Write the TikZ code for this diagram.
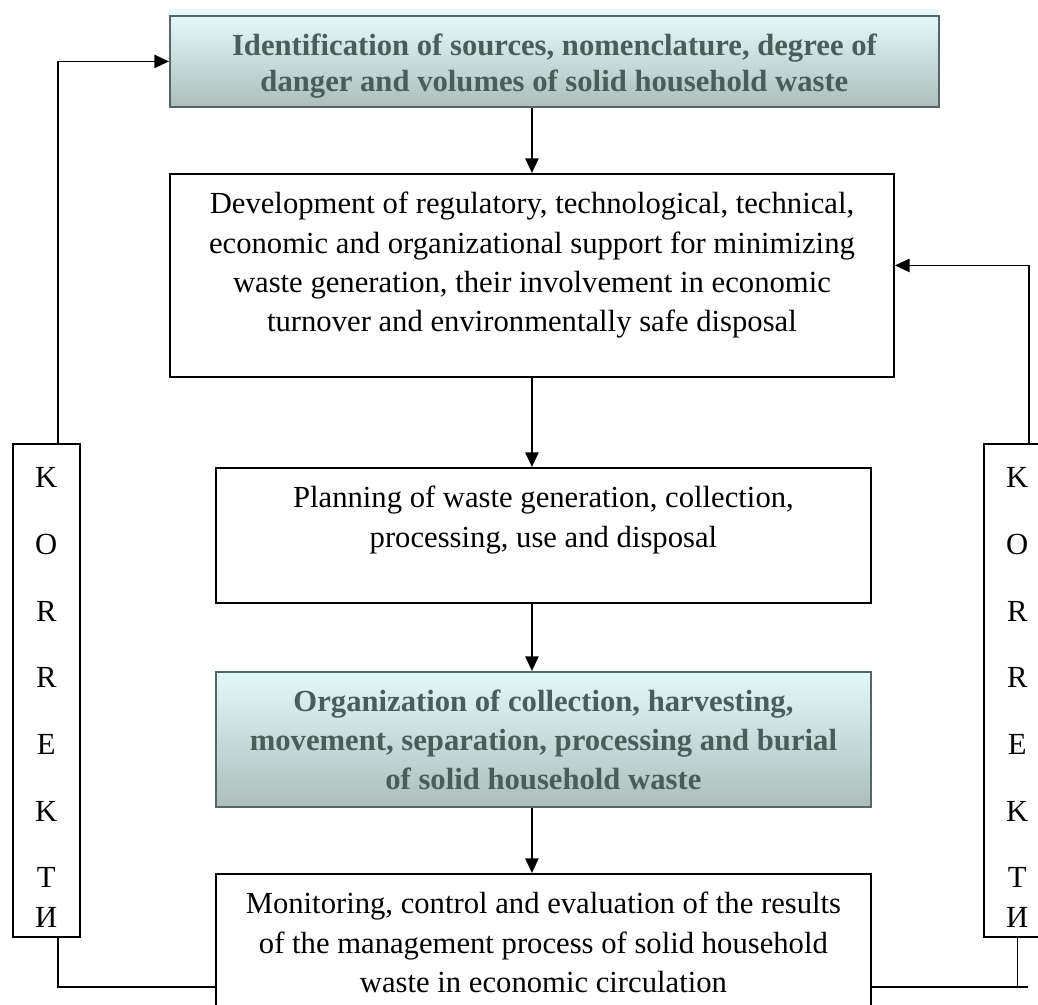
\documentclass[tikz,border=0pt]{standalone}
\usepackage{fontspec}
\setmainfont{Liberation Serif}
\usetikzlibrary{arrows.meta,positioning}

\newlength\pxu
\setlength\pxu{0.75pt}
\definecolor{shadetop}{HTML}{E2F9F9}
\definecolor{shadebot}{HTML}{AEBDBC}
\definecolor{shadeline}{HTML}{566665}
\definecolor{shadetext}{HTML}{4B5D5B}
\definecolor{glow}{HTML}{E4FAFA}
% text set from the top of a fixed box: width, height, lines
\newcommand{\stack}[3]{\parbox[c][#2\pxu][t]{#1\pxu}{\centering\rule{0pt}{30pt}#3}}
\newcommand{\vword}{\parbox[c][493\pxu][t]{67\pxu}{\centering\rule{0pt}{33pt}K\\[20.5pt]O\\[20.5pt]R\\[20.5pt]R\\[20.5pt]E\\[20.5pt]K\\[20.5pt]T\\И}}

\tikzset{
  plainbox/.style={draw=black, line width=1.4pt, inner sep=0pt, anchor=north west,
    font=\fontsize{23}{29.5}\selectfont},
  shadebox/.style={plainbox, draw=shadeline, top color=shadetop, bottom color=shadebot,
    text=shadetext, font=\fontsize{23}{29}\selectfont\bfseries},
  sidebox/.style={plainbox, line width=1.2pt},
  flow/.style={line width=1.1pt, -{Triangle[length=11pt,width=10pt]}},
  wire/.style={line width=1.1pt},
}

\begin{document}
\begin{tikzpicture}[x=0.75pt, y=-0.75pt]
\clip (0,0) rectangle (1038,1005);
\fill[glow] (169,9) rectangle (938,15);
% main column
\node[shadebox, font=\fontsize{23}{27}\selectfont\bfseries] (ident) at (169,15)
  {\stack{769}{91}{Identification of sources, nomenclature, degree of\\ danger and volumes of solid household waste}};
\node[plainbox] (devel) at (169,173)
  {\stack{724}{203}{Development of regulatory, technological, technical,\\ economic and organizational support for minimizing\\ waste generation, their involvement in economic\\ turnover and environmentally safe disposal}};
\node[plainbox] (plan) at (215,467)
  {\stack{655}{135}{Planning of waste generation, collection,\\ processing, use and disposal}};
\node[shadebox] (organ) at (215,671)
  {\stack{655}{135}{Organization of collection, harvesting,\\ movement, separation, processing and burial\\ of solid household waste}};
\node[plainbox] (monit) at (215,873)
  {\stack{655}{160}{Monitoring, control and evaluation of the results\\ of the management process of solid household\\ waste in economic circulation}};
% correction boxes
\node[sidebox] (corl) at (12,443) {\vword};
\node[sidebox] (corr) at (983,443) {\vword};
\coordinate (base) at (0,987);
\coordinate (rend) at (1028,987);

\draw[flow] (ident.south -| devel.north) -- (devel.north);
\draw[flow] (devel.south) -- (devel.south |- plan.north);
\draw[flow] (plan.south -| devel.south) -- (organ.north -| devel.south);
\draw[flow] (organ.south -| devel.south) -- (monit.north -| devel.south);

% feedback loops
\draw[flow] ([xshift=11.5\pxu]corl.north) |- (ident.west);
\draw[flow] ([xshift=11.5\pxu]corr.north) |- ([yshift=7.5pt]devel.east);
\draw[wire] ([xshift=11.5\pxu]corl.south) |- (monit.west |- base);
\draw[wire] (monit.east |- base) -- (rend);
\draw[wire] (corr.south) -- (corr.south |- base);
\end{tikzpicture}
\end{document}
